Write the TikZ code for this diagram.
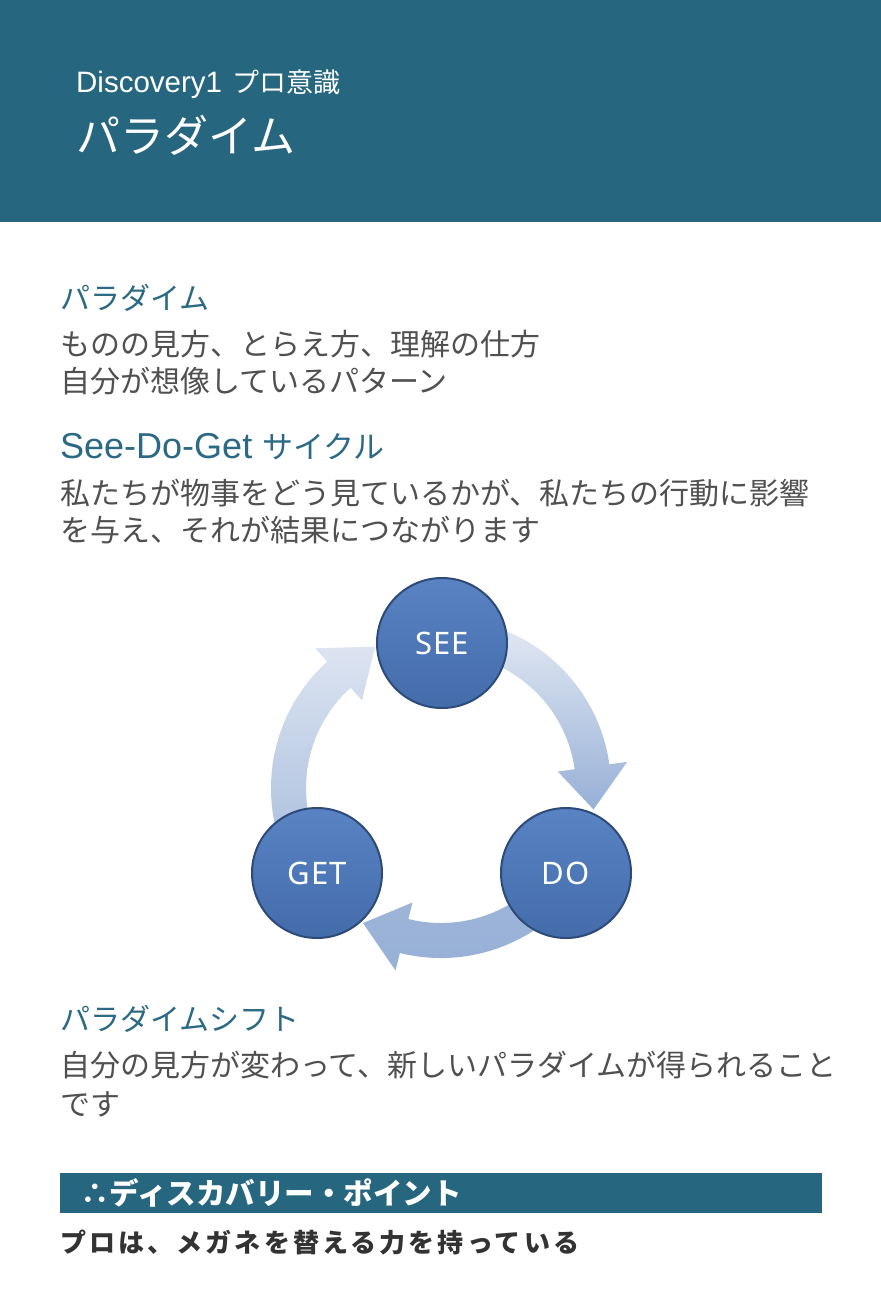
\documentclass[tikz,border=0pt]{standalone}
\usepackage{fontspec}
\usepackage{xcolor}
\usepackage{tikz}
\setmainfont{Noto Sans CJK JP}
\newfontfamily\lat{Liberation Sans}
\newfontfamily\ballfont[LetterSpace=4]{Noto Sans}
\newfontfamily\spjp[LetterSpace=12]{Noto Sans CJK JP}
\definecolor{headbg}{HTML}{27667F}
\definecolor{headtxt}{HTML}{2B6985}
\definecolor{bodygray}{HTML}{505050}
\definecolor{ballblue}{HTML}{4B78BE}
\definecolor{balledge}{HTML}{2E4A78}
\definecolor{arrlight}{HTML}{E4EAF4}
\definecolor{arrdark}{HTML}{97B0D6}
\tikzset{
  txt/.style={anchor=base west, inner sep=0pt, text=bodygray, font=\fontsize{30}{36}\selectfont},
  ttl/.style={txt, text=headtxt},
  ball/.style={circle, minimum size=130pt, inner sep=0pt, top color=ballblue!92!white, middle color=ballblue, bottom color=ballblue!90!black, draw=balledge, line width=2pt, text=white, font=\ballfont\fontsize{31}{36}\selectfont}
}

\begin{document}
\begin{tikzpicture}[x=1pt,y=1pt]
    \useasboundingbox (0,0) rectangle (881,-1294);
    \fill[white] (0,0) rectangle (881,-1294);
    \fill[headbg] (0,0) rectangle (881,-222);
    \node[txt, text=white] (sub) at (76,-92) {{\lat\fontsize{29.5}{34}\selectfont Discovery1}\hspace{10pt}{\fontsize{27}{30}\selectfont プロ意識}};
    \node[txt, text=white, font=\fontsize{44}{50}\selectfont] (title) at (76,-152) {パラダイム};

    \node[ttl] (par) at (60,-309) {パラダイム};
    \node[txt] (par1) at (60,-355) {ものの見方、とらえ方、理解の仕方};
    \node[txt] (par2) at (60,-392) {自分が想像しているパターン};
    \node[ttl] (sdg) at (60,-458) {{\lat\fontsize{36}{40}\selectfont See-Do-Get}\hspace{10pt}{\fontsize{31}{36}\selectfont サイクル}};
    \node[txt] (sdg1) at (60,-504) {私たちが物事をどう見ているかが、私たちの行動に影響};
    \node[txt] (sdg2) at (60,-541) {を与え、それが結果につながります};

    \coordinate (cyc) at (441,-788);
    \begin{scope}[shift={(cyc)}]
        \shade[top color=arrlight, bottom color=arrdark] (85:135) arc[start angle=85, end angle=8, radius=135] -- (8:118) -- (-8:154) -- (8:188) -- (8:170) arc[start angle=8, end angle=85, radius=170] -- cycle;
        \shade[top color=arrdark!90, bottom color=arrdark] (-30:135) arc[start angle=-30, end angle=-104, radius=135] -- (-104:118) -- (-120:156) -- (-104:188) -- (-104:170) arc[start angle=-104, end angle=-30, radius=170] -- cycle;
        \shade[top color=arrlight!90!arrdark, bottom color=arrdark!85] (210:135) arc[start angle=210, end angle=132, radius=135] -- (132:118) -- (115:156) -- (132:188) -- (132:170) arc[start angle=132, end angle=210, radius=170] -- cycle;
    \end{scope}
    \node[ball] (see) at (442,-643) {SEE};
    \node[ball] (do) at (566,-873) {DO};
    \node[ball] (get) at (317,-873) {GET};

    \node[ttl] (shift) at (60,-1030) {パラダイムシフト};
    \node[txt] (shift1) at (60,-1076) {自分の見方が変わって、新しいパラダイムが得られること};
    \node[txt] (shift2) at (60,-1115) {です};

    \fill[headbg] (60,-1173) rectangle (822,-1213);
    \node[txt, text=white, font=\bfseries\fontsize{29.5}{34}\selectfont] (point) at (80,-1204) {∴ディスカバリー・ポイント};
    \node[txt, text=black!80, font=\spjp\bfseries\fontsize{26}{30}\selectfont] (pro) at (60,-1252) {プロは、メガネを替える力を持っている};
\end{tikzpicture}
\end{document}
